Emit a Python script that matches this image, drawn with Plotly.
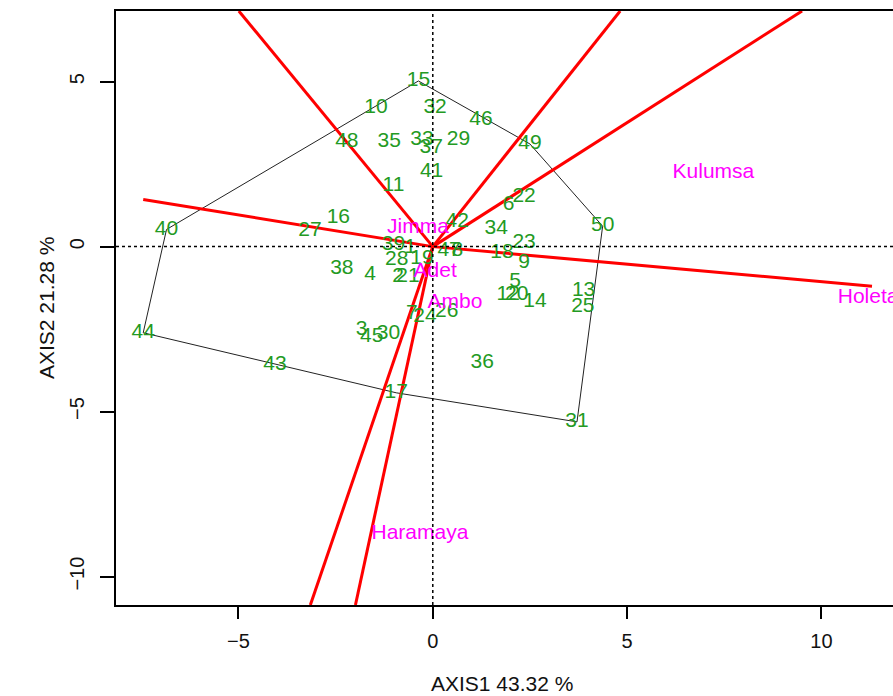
import plotly.graph_objects as go

# Genotype labels and their biplot coordinates (AXIS1, AXIS2)
genotypes = ["15", "10", "32", "46", "48", "35", "33", "37", "29", "49",
             "41", "11", "22", "6", "16", "42", "34", "27", "23", "50",
             "39", "1", "47", "8", "18", "28", "19", "38", "4", "9",
             "2", "21", "5", "12", "20", "14", "13", "25", "7", "24",
             "26", "3", "45", "30", "36", "31", "17", "43", "44", "40"]
gen_x = [-0.37, -1.46, 0.06, 1.24, -2.21, -1.12, -0.28, -0.04, 0.66, 2.50,
         -0.03, -1.01, 2.35, 1.95, -2.43, 0.63, 1.63, -3.16, 2.35, 4.37,
         -1.01, -0.58, 0.42, 0.63, 1.78, -0.93, -0.28, -2.34, -1.61, 2.35,
         -0.89, -0.64, 2.12, 1.94, 2.16, 2.63, 3.88, 3.86, -0.54, -0.20,
         0.36, -1.83, -1.57, -1.14, 1.27, 3.71, -0.94, -4.06, -7.45, -6.85]
gen_y = [5.02, 4.22, 4.22, 3.85, 3.18, 3.18, 3.25, 3.01, 3.25, 3.11,
         2.27, 1.83, 1.51, 1.26, 0.89, 0.75, 0.55, 0.47, 0.12, 0.62,
         0.05, -0.02, -0.11, -0.11, -0.19, -0.41, -0.36, -0.66, -0.86, -0.49,
         -0.92, -0.92, -1.07, -1.47, -1.47, -1.67, -1.34, -1.82, -2.02, -2.13,
         -1.98, -2.53, -2.73, -2.63, -3.53, -5.31, -4.43, -3.57, -2.61, 0.52]

# Convex hull (polygon) vertices, by genotype label
hull = ["15", "49", "50", "31", "17", "44", "40", "15"]

# Environment labels
environments = ["Jimma", "Adet", "Ambo", "Kulumsa", "Holeta", "Haramaya"]
env_x = [-0.38, 0.06, 0.57, 7.22, 11.20, -0.33]
env_y = [0.56, -0.77, -1.71, 2.23, -1.56, -8.71]

# Rays perpendicular to polygon sides (end points, starting at origin)
ray_x = [-4.99, 4.82, 9.50, -7.45, 11.30, -3.15, -1.99]
ray_y = [7.14, 7.14, 7.14, 1.43, -1.20, -10.86, -10.86]

x_range = [-8.15, 11.84]
y_range = [-10.86, 7.14]
x_ticks = [-5, 0, 5, 10]
y_ticks = [-10, -5, 0, 5]
x_title = "AXIS1 43.32 %"
y_title = "AXIS2 21.28 %"

FONT = "Liberation Sans, Arial, Helvetica, sans-serif"

fig = go.Figure()

# polygon
idx = {g: i for i, g in enumerate(genotypes)}
fig.add_trace(go.Scatter(
    x=[gen_x[idx[g]] for g in hull], y=[gen_y[idx[g]] for g in hull],
    mode="lines", line=dict(color="#222222", width=1), hoverinfo="skip"))

# rays
for rx, ry in zip(ray_x, ray_y):
    fig.add_trace(go.Scatter(x=[0, rx], y=[0, ry], mode="lines",
                             line=dict(color="#ff0000", width=3), hoverinfo="skip"))

# genotype labels
fig.add_trace(go.Scatter(x=gen_x, y=gen_y, mode="text", text=genotypes,
                         textposition="middle center",
                         textfont=dict(color="#239a23", size=21, family=FONT)))
# environment labels
fig.add_trace(go.Scatter(x=env_x, y=env_y, mode="text", text=environments,
                         textposition="middle center", cliponaxis=False,
                         textfont=dict(color="#ff00ff", size=21, family=FONT)))

# dotted zero lines
fig.add_shape(type="line", xref="x", yref="paper", x0=0, x1=0, y0=0, y1=1,
              line=dict(color="black", width=1.5, dash="dot"))
fig.add_shape(type="line", xref="paper", yref="y", x0=0, x1=1, y0=0, y1=0,
              line=dict(color="black", width=1.5, dash="dot"))

fig.add_annotation(text=x_title, xref="paper", yref="paper", x=0.497, y=0,
                   yshift=-78, showarrow=False, xanchor="center", yanchor="middle",
                   font=dict(size=21, color="#111", family=FONT))
fig.add_annotation(text=y_title, xref="paper", yref="paper", x=0, y=0.5,
                   xshift=-70, showarrow=False, textangle=-90,
                   xanchor="center", yanchor="middle",
                   font=dict(size=21, color="#111", family=FONT))

fig.update_layout(
    width=893, height=696,
    margin=dict(l=116, r=0, t=11, b=91),
    paper_bgcolor="white", plot_bgcolor="white",
    showlegend=False,
    font=dict(family=FONT, size=20, color="#111"),
    xaxis=dict(range=x_range, tickvals=x_ticks, ticktext=[str(v).replace("-", "\u2212") for v in x_ticks],
               showgrid=False, zeroline=False, showline=True, mirror=True,
               linecolor="black", linewidth=1.5, ticks="outside", ticklen=12,
               tickwidth=1.5, tickcolor="black", tickfont=dict(size=20),
               ticklabelstandoff=5),
    yaxis=dict(range=y_range, tickvals=y_ticks, ticktext=[str(v).replace("-", "\u2212") for v in y_ticks],
               showgrid=False, zeroline=False, showline=True, mirror=False,
               linecolor="black", linewidth=1.5, ticks="outside", ticklen=14,
               tickwidth=1.5, tickcolor="black", tickangle=-90, tickfont=dict(size=20),
               ticklabelstandoff=8),
)

fig.write_html("out.html")
